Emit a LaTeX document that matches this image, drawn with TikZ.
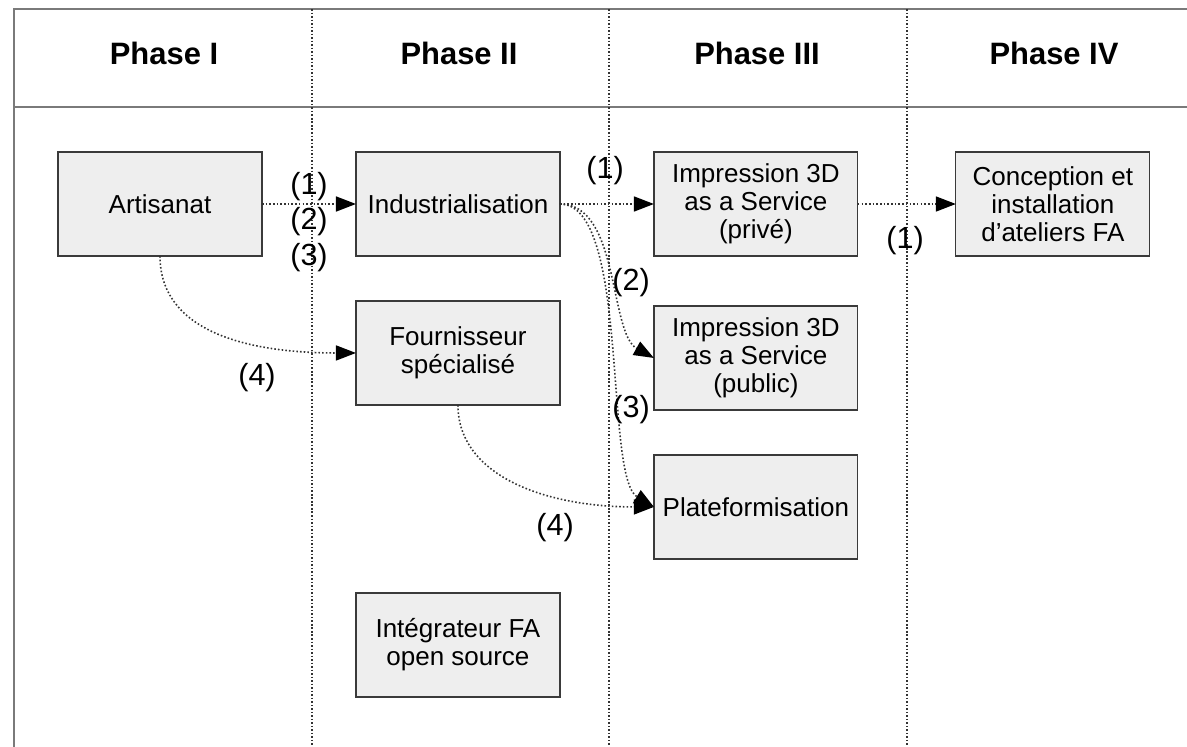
\documentclass[tikz,border=0pt]{standalone}
\usepackage{fontspec}
\setmainfont{Liberation Sans}
\usepackage{xcolor}
\usepackage{tikz}
\usetikzlibrary{positioning,arrows.meta}
\definecolor{boxfill}{HTML}{EEEEEE}
\definecolor{boxline}{HTML}{3A3A3A}
\definecolor{framegray}{HTML}{7A7A7A}
\definecolor{dotgray}{HTML}{333333}

\begin{document}
\begin{tikzpicture}[x=0.02cm, y=-0.02cm,
  pbox/.style={fill=boxfill, draw=boxline, line width=0.7pt, outer sep=0pt,
               minimum width=4.08cm, minimum height=2.08cm, inner sep=2pt,
               font=\fontsize{14.8}{16}\selectfont, align=center, text=black},
  phase/.style={font=\fontsize{17.6}{20}\selectfont\bfseries, text=black},
  lbl/.style={font=\fontsize{17.4}{20}\selectfont, inner sep=0pt, text=black},
  sep/.style={draw=dotgray, line width=0.9pt, dash pattern=on 0.9pt off 1.1pt},
  rule/.style={draw=framegray, line width=1.1pt},
  arrow/.style={->, >={Triangle[length=0.4cm,width=0.3cm,color=black]}, line width=0.9pt,
                dash pattern=on 0.9pt off 1.2pt, color=dotgray}
]

\useasboundingbox (0,0) rectangle (1187,747);

\draw[rule] (13,9) -- (1187,9);
\draw[rule] (13,107) -- (1187,107);
\draw[rule] (14,9) -- (14,747);
\foreach \x in {312,609,907}
  \draw[sep] (\x,9) -- (\x,747);

\node[phase] (ph1) at (164,53) {Phase I};
\node[phase] (ph2) at (459,53) {Phase II};
\node[phase] (ph3) at (757,53) {Phase III};
\node[phase] (ph4) at (1054,53) {Phase IV};

\node[pbox] (art) at (160,204) {Artisanat};
\node[pbox, right=1.88cm of art] (ind) {Industrialisation};
\node[pbox, right=1.88cm of ind] (priv) {Impression 3D\\as a Service\\(privé)};
\node[pbox, minimum width=3.88cm, right=1.96cm of priv] (conc) {Conception et\\installation\\d’ateliers FA};
\node[pbox, below=0.9cm of ind] (four) {Fournisseur\\spécialisé};
\node[pbox, below=1.0cm of priv] (pub) {Impression 3D\\as a Service\\(public)};
\node[pbox, below=0.9cm of pub] (plat) {Plateformisation};
\node[pbox, below=3.76cm of four] (integ) {Intégrateur FA\\open source};

\draw[arrow] (art) -- (ind);
\draw[arrow] (ind) -- (priv);
\draw[arrow] (priv) -- (conc);
\draw[arrow] (ind.east) .. controls +(60,0) and +(-45,-25) .. (pub.west);
\draw[arrow] (ind.east) .. controls +(70,0) and +(-50,-30) .. (plat.west);
\draw[arrow] (art.south) .. controls +(0,75) and +(-110,0) .. (four.west);
\draw[arrow] (four.south) .. controls +(0,70) and +(-110,0) .. (plat.west);

\node[lbl] (l1a) at (309,187) {(1)};
\node[lbl] (l2a) at (309,222) {(2)};
\node[lbl] (l3a) at (309,258) {(3)};
\node[lbl] (l1b) at (605,171) {(1)};
\node[lbl] (l1c) at (905,241) {(1)};
\node[lbl] (l2b) at (631,283) {(2)};
\node[lbl] (l3b) at (631,410) {(3)};
\node[lbl] (l4a) at (257,378) {(4)};
\node[lbl] (l4b) at (555,528) {(4)};

\end{tikzpicture}
\end{document}
